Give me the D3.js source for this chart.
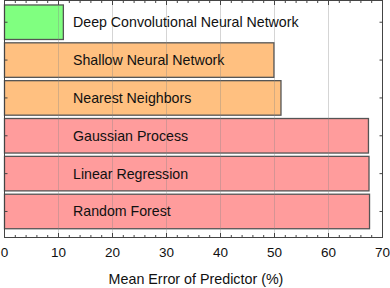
<!DOCTYPE html>
<html>
<head>
<meta charset="utf-8">
<script src="https://cdn.jsdelivr.net/npm/d3@7"></script>
<style>
  body { margin: 0; background: #fff; }
  svg { display: block; font-family: "Liberation Sans", Arial, sans-serif; }
</style>
</head>
<body>
<svg id="chart" width="390" height="288"></svg>
<script>
// data
const methods = ["Deep Convolutional Neural Network", "Shallow Neural Network", "Nearest Neighbors",
                 "Gaussian Process", "Linear Regression", "Random Forest"];
const errors = [10.9, 49.9, 51.2, 67.4, 67.5, 67.6];
const groups = ["deep", "shallow", "shallow", "classic", "classic", "classic"];
const xTicks = [0, 10, 20, 30, 40, 50, 60, 70];

const colors = { deep: "#80ff80", shallow: "#ffc080", classic: "#ff9c9c" };

const svg = d3.select("#chart");
const plotL = 4.5, plotR = 382.5, plotT = 0.5, plotB = 237.5;

const x = d3.scaleLinear().domain([0, 70]).range([plotL, plotR]);
const y = d3.scaleBand().domain(methods).range([3.3, 230.4])
    .paddingInner(0.088).paddingOuter(0.044);

// bars
svg.selectAll("rect.bar").data(methods).enter().append("rect")
    .attr("class", "bar")
    .attr("x", x(0))
    .attr("y", d => y(d))
    .attr("width", (d, i) => x(errors[i]) - x(0))
    .attr("height", y.bandwidth())
    .attr("fill", (d, i) => colors[groups[i]])
    .attr("stroke", "#555")
    .attr("stroke-width", 1.3);

// grid lines on top, faint
svg.selectAll("line.grid").data(xTicks.slice(1, -1)).enter().append("line")
    .attr("class", "grid")
    .attr("x1", d => x(d)).attr("x2", d => x(d))
    .attr("y1", plotT).attr("y2", plotB)
    .attr("stroke", "#888").attr("stroke-opacity", 0.35).attr("stroke-width", 1);

// labels
svg.selectAll("text.lab").data(methods).enter().append("text")
    .attr("class", "lab")
    .attr("x", 73)
    .attr("y", d => y(d) + y.bandwidth() / 2 + 5)
    .attr("font-size", 14.2)
    .attr("fill", "#111")
    .text(d => d);

// frame
svg.append("rect")
    .attr("x", plotL).attr("y", plotT)
    .attr("width", plotR - plotL).attr("height", plotB - plotT)
    .attr("fill", "none").attr("stroke", "#444").attr("stroke-width", 1);

// x ticks, top and bottom, pointing inward
const minor = d3.range(0, 70.01, 2).filter(v => v % 10 !== 0);
const tickG = svg.append("g").attr("stroke", "#444").attr("stroke-width", 1);
xTicks.slice(1, -1).forEach(v => {
  tickG.append("line").attr("x1", x(v)).attr("x2", x(v)).attr("y1", plotB).attr("y2", plotB - 4.5);
  tickG.append("line").attr("x1", x(v)).attr("x2", x(v)).attr("y1", plotT).attr("y2", plotT + 4.5);
});
minor.forEach(v => {
  tickG.append("line").attr("x1", x(v)).attr("x2", x(v)).attr("y1", plotB).attr("y2", plotB - 2.5);
  tickG.append("line").attr("x1", x(v)).attr("x2", x(v)).attr("y1", plotT).attr("y2", plotT + 2.5);
});
// y ticks at bar centers, both sides
methods.forEach(m => {
  const cy = y(m) + y.bandwidth() / 2;
  tickG.append("line").attr("x1", plotL).attr("x2", plotL + 3).attr("y1", cy).attr("y2", cy);
  tickG.append("line").attr("x1", plotR).attr("x2", plotR - 3).attr("y1", cy).attr("y2", cy);
});

// tick labels
svg.selectAll("text.tick").data(xTicks).enter().append("text")
    .attr("class", "tick")
    .attr("x", d => x(d))
    .attr("y", 257)
    .attr("text-anchor", "middle")
    .attr("font-size", 13.5)
    .attr("fill", "#111")
    .text(d => d);

// axis title
svg.append("text")
    .attr("x", 196)
    .attr("y", 284)
    .attr("text-anchor", "middle")
    .attr("font-size", 14.3)
    .attr("fill", "#111")
    .text("Mean Error of Predictor (%)");
</script>
</body>
</html>
